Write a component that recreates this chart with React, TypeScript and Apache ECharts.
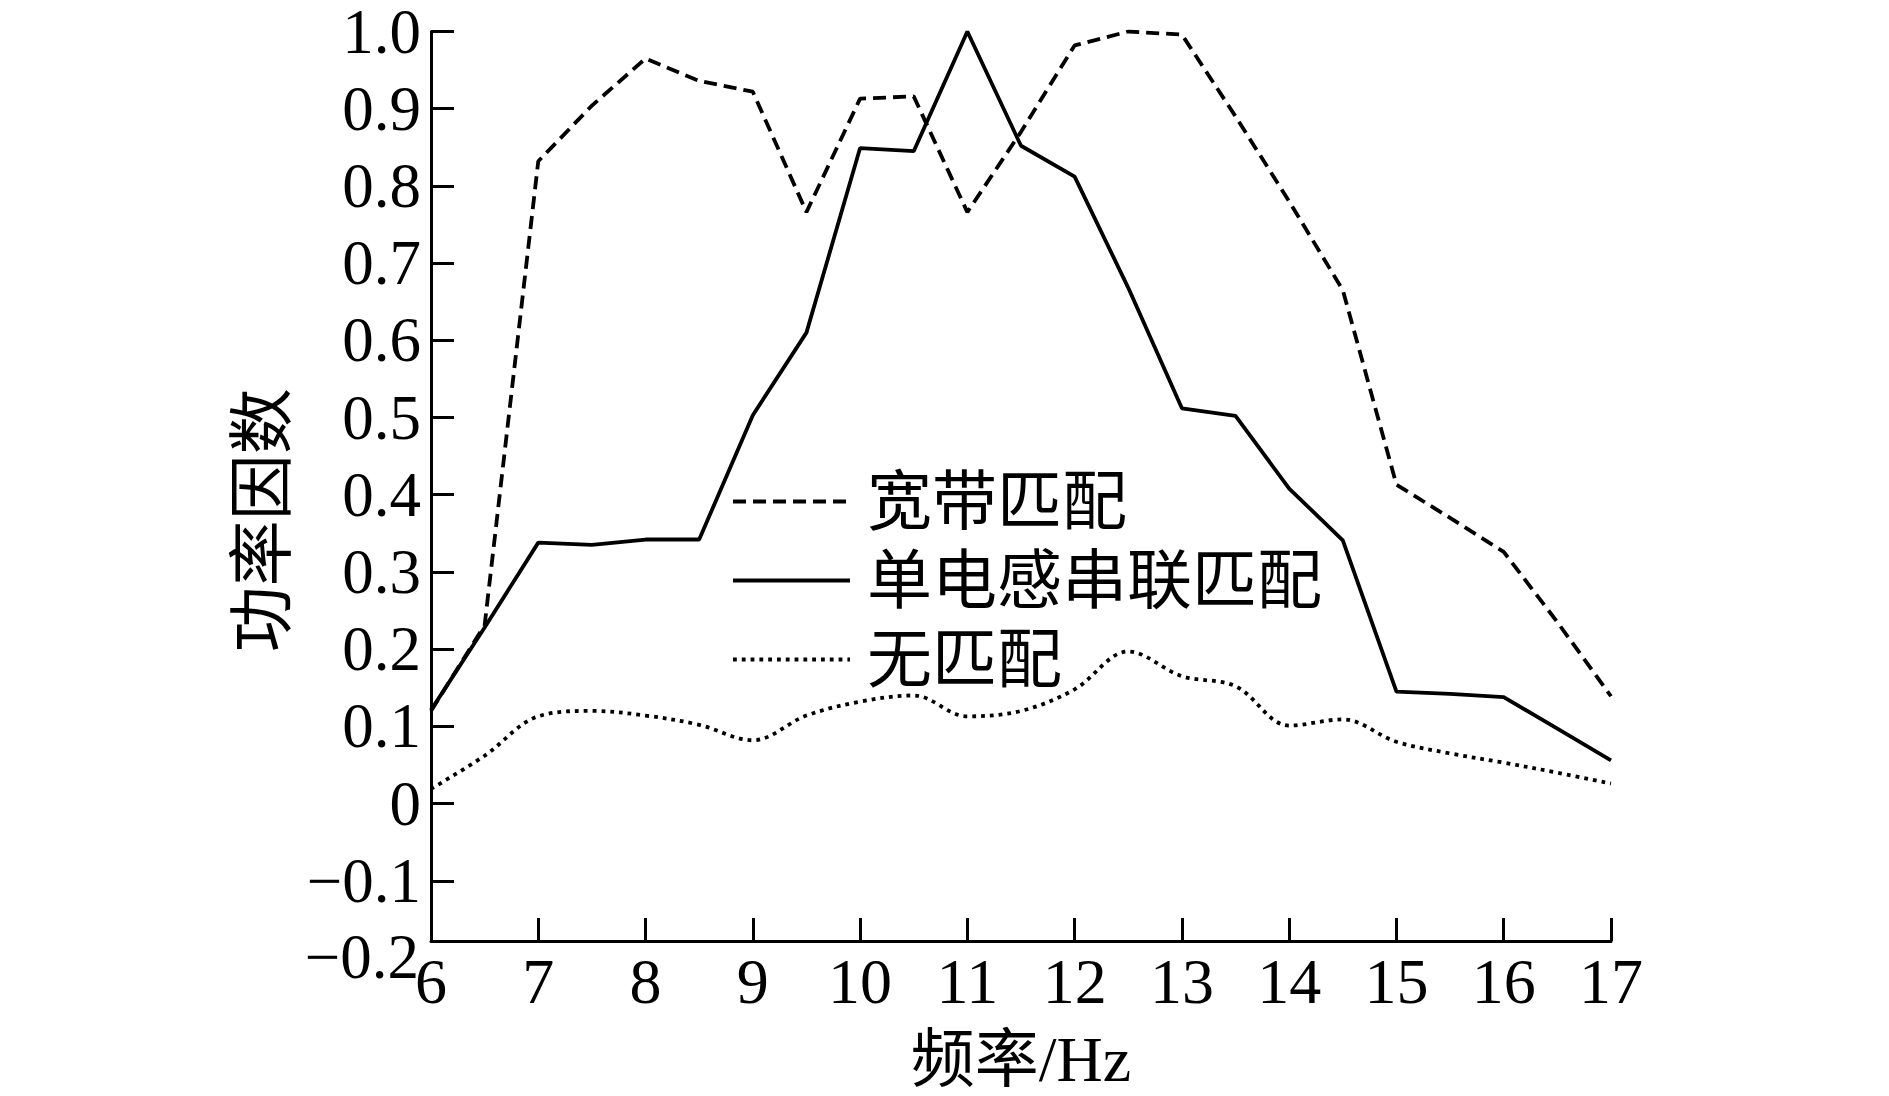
import React, { useEffect, useRef } from "react";
import * as echarts from "echarts";

const freqs = [6, 6.5, 7, 7.5, 8, 8.5, 9, 9.5, 10, 10.5, 11, 11.5, 12, 12.5, 13, 13.5, 14, 14.5, 15, 15.5, 16, 16.5, 17];
const broadband = [0.12, 0.231, 0.832, 0.904, 0.965, 0.936, 0.922, 0.766, 0.913, 0.916, 0.766, 0.87, 0.982, 1.0, 0.996, 0.89, 0.78, 0.665, 0.413, 0.37, 0.326, 0.235, 0.139];
const singleInductor = [0.121, 0.228, 0.338, 0.335, 0.342, 0.342, 0.503, 0.61, 0.849, 0.845, 1.0, 0.852, 0.812, 0.668, 0.512, 0.502, 0.408, 0.341, 0.145, 0.142, 0.138, 0.097, 0.056];
const noMatch = [0.019, 0.062, 0.113, 0.12, 0.114, 0.102, 0.082, 0.114, 0.132, 0.14, 0.113, 0.12, 0.148, 0.197, 0.165, 0.152, 0.101, 0.109, 0.08, 0.065, 0.053, 0.04, 0.026];
const seriesNames = ["宽带匹配", "单电感串联匹配", "无匹配"];
const yTickValues = [-0.1, 0, 0.1, 0.2, 0.3, 0.4, 0.5, 0.6, 0.7, 0.8, 0.9, 1.0];
const yBottomLabel = "\u22120.2";
const yMin = -0.178;
const yMax = 1.0;
const xTitle = "频率/Hz";
const yTitle = "功率因数";

const serif = "'Liberation Serif', 'Noto Sans CJK SC', serif";
const cjk = "'Liberation Serif', 'Noto Sans CJK SC', sans-serif";

export default function App() {
  const ref = useRef<HTMLDivElement>(null);
  useEffect(() => {
    if (!ref.current) return;
    const chart = echarts.init(ref.current, undefined, { renderer: "svg" });
    const toPairs = (ys: number[]) => freqs.map((f, i) => [f, ys[i]]);
    const fmt = (v: number) => {
      if (Math.abs(v) < 1e-9) return "0";
      const s = Math.abs(v).toFixed(1);
      return v < 0 ? "\u2212" + s : s;
    };
    chart.setOption({
      animation: false,
      backgroundColor: "#ffffff",
      grid: { left: 431, right: 278, top: 23, bottom: 148, containLabel: false },
      legend: {
        orient: "vertical",
        left: 726,
        top: 464,
        itemWidth: 117,
        itemHeight: 20,
        itemGap: 14,
        data: seriesNames,
        itemStyle: { opacity: 0 },
        lineStyle: { width: 4 },
        textStyle: { fontFamily: cjk, fontSize: 65, color: "#000", padding: [0, 0, 0, 12] },
      },
      xAxis: {
        type: "value",
        min: 6,
        max: 17,
        interval: 1,
        name: xTitle,
        nameLocation: "middle",
        nameGap: 86,
        nameTextStyle: { fontFamily: cjk, fontSize: 64, color: "#000" },
        axisLine: { show: true, onZero: false, lineStyle: { color: "#000", width: 3 } },
        axisTick: { show: true, inside: true, length: 23, lineStyle: { color: "#000", width: 3 } },
        axisLabel: { fontFamily: serif, fontSize: 64, color: "#000", margin: 8 },
        splitLine: { show: false },
      },
      yAxis: [
        {
          type: "value",
          min: yMin,
          max: yMax,
          name: yTitle,
          nameLocation: "middle",
          nameGap: 90,
          nameRotate: 90,
          nameTextStyle: { fontFamily: cjk, fontSize: 66, color: "#000", padding: [0, 68, 0, 0] },
          axisLine: { show: true, onZero: false, lineStyle: { color: "#000", width: 3 } },
          axisTick: {
            show: true,
            inside: true,
            length: 23,
            customValues: yTickValues,
            lineStyle: { color: "#000", width: 3 },
          },
          axisLabel: {
            fontFamily: serif,
            fontSize: 63,
            lineHeight: 46,
            color: "#000",
            margin: 10,
            customValues: yTickValues,
            formatter: fmt,
          },
          splitLine: { show: false },
        },
        {
          type: "value",
          min: yMin,
          max: yMax,
          position: "left",
          offset: 0,
          axisLine: { show: false, onZero: false },
          axisTick: { show: false },
          splitLine: { show: false },
          axisLabel: {
            fontFamily: serif,
            fontSize: 63,
            lineHeight: 32,
            verticalAlign: "top",
            color: "#000",
            margin: 12,
            showMinLabel: true,
            customValues: [yMin],
            formatter: () => yBottomLabel,
          },
        },
      ],
      series: [
        {
          name: seriesNames[0],
          type: "line",
          data: toPairs(broadband),
          symbol: "none",
          lineStyle: { color: "#000", width: 3.8, type: [13, 7] },
          itemStyle: { color: "#000" },
        },
        {
          name: seriesNames[1],
          type: "line",
          data: toPairs(singleInductor),
          symbol: "none",
          lineStyle: { color: "#000", width: 3.8, type: "solid" },
          itemStyle: { color: "#000" },
        },
        {
          name: seriesNames[2],
          type: "line",
          data: toPairs(noMatch),
          symbol: "none",
          smooth: 0.35,
          lineStyle: { color: "#000", width: 3.8, type: [3.8, 5] },
          itemStyle: { color: "#000" },
        },
      ],
    });
    return () => chart.dispose();
  }, []);
  return (
    <div
      ref={ref}
      style={{ position: "absolute", left: 0, top: 0, width: 1889, height: 1096, background: "#fff" }}
    />
  );
}
